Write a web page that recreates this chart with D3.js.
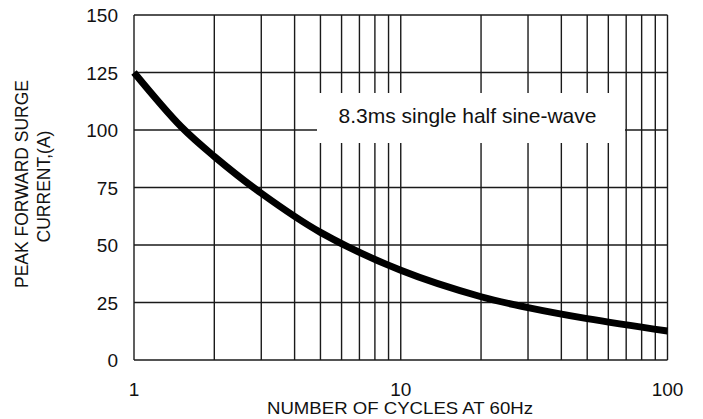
<!DOCTYPE html>
<html>
<head>
<meta charset="utf-8">
<script src="https://cdn.jsdelivr.net/npm/d3@7"></script>
<style>
  body { margin: 0; background: #fff; }
  text { font-family: "Liberation Sans", Arial, sans-serif; fill: #111; }
</style>
</head>
<body>
<script>
const cycles = [1, 1.5, 2, 3, 5, 10, 20, 30, 50, 100];
const current = [125, 101.5, 88.5, 72.5, 55.5, 39, 27.5, 22.8, 18, 12.6];
const gridX = [1, 2, 3, 4, 5, 6, 7, 8, 9, 10, 20, 30, 40, 50, 60, 70, 80, 90, 100];
const xTickLabels = [1, 10, 100];
const yTicks = [0, 25, 50, 75, 100, 125, 150];

const w = 703;
const h = 419;
const mLeft = 134, mRight = 667.5, mTop = 15, mBottom = 360;

const svg = d3.select("body")
  .append("svg")
  .attr("width", w)
  .attr("height", h);

const x = d3.scaleLog().domain([1, 100]).range([mLeft, mRight]);
const y = d3.scaleLinear().domain([0, 150]).range([mBottom, mTop]);

// grid
svg.selectAll("line.gx")
  .data(gridX)
  .join("line")
  .attr("class", "gx")
  .attr("x1", d => x(d)).attr("x2", d => x(d))
  .attr("y1", mTop).attr("y2", mBottom)
  .style("stroke", "#1a1a1a")
  .style("stroke-width", 1.4);

svg.selectAll("line.gy")
  .data(yTicks)
  .join("line")
  .attr("class", "gy")
  .attr("x1", mLeft).attr("x2", mRight)
  .attr("y1", d => y(d)).attr("y2", d => y(d))
  .style("stroke", "#1a1a1a")
  .style("stroke-width", 1.4);

// annotation box blanks out the grid
svg.append("rect")
  .attr("x", 317).attr("y", 93)
  .attr("width", 308).attr("height", 50)
  .style("fill", "#fff");

svg.append("text")
  .attr("x", 467.5).attr("y", 123)
  .attr("text-anchor", "middle")
  .style("font-size", "21px")
  .text("8.3ms single half sine-wave");

// curve
const line = d3.line()
  .x((d, i) => x(cycles[i]))
  .y(d => y(d))
  .curve(d3.curveCatmullRom.alpha(0.5));

svg.append("path")
  .datum(current)
  .attr("d", line)
  .style("fill", "none")
  .style("stroke", "#000")
  .style("stroke-width", 7)
  .style("stroke-linecap", "butt");

// axis labels
svg.selectAll("text.yl")
  .data(yTicks)
  .join("text")
  .attr("class", "yl")
  .attr("x", 118)
  .attr("y", d => y(d) + 7)
  .attr("text-anchor", "end")
  .style("font-size", "19px")
  .text(d => d);

svg.selectAll("text.xl")
  .data(xTickLabels)
  .join("text")
  .attr("class", "xl")
  .attr("x", d => x(d))
  .attr("y", 396)
  .attr("text-anchor", "middle")
  .style("font-size", "19px")
  .text(d => d);

svg.append("text")
  .attr("x", 400).attr("y", 414)
  .attr("text-anchor", "middle")
  .style("font-size", "17px")
  .attr("textLength", 266)
  .attr("lengthAdjust", "spacingAndGlyphs")
  .text("NUMBER OF CYCLES AT 60Hz");

svg.append("text")
  .attr("transform", "translate(28,184) rotate(-90)")
  .attr("text-anchor", "middle")
  .style("font-size", "17.5px")
  .text("PEAK FORWARD SURGE");

svg.append("text")
  .attr("transform", "translate(50,186.5) rotate(-90)")
  .attr("text-anchor", "middle")
  .style("font-size", "17.5px")
  .text("CURRENT,(A)");
</script>
</body>
</html>
